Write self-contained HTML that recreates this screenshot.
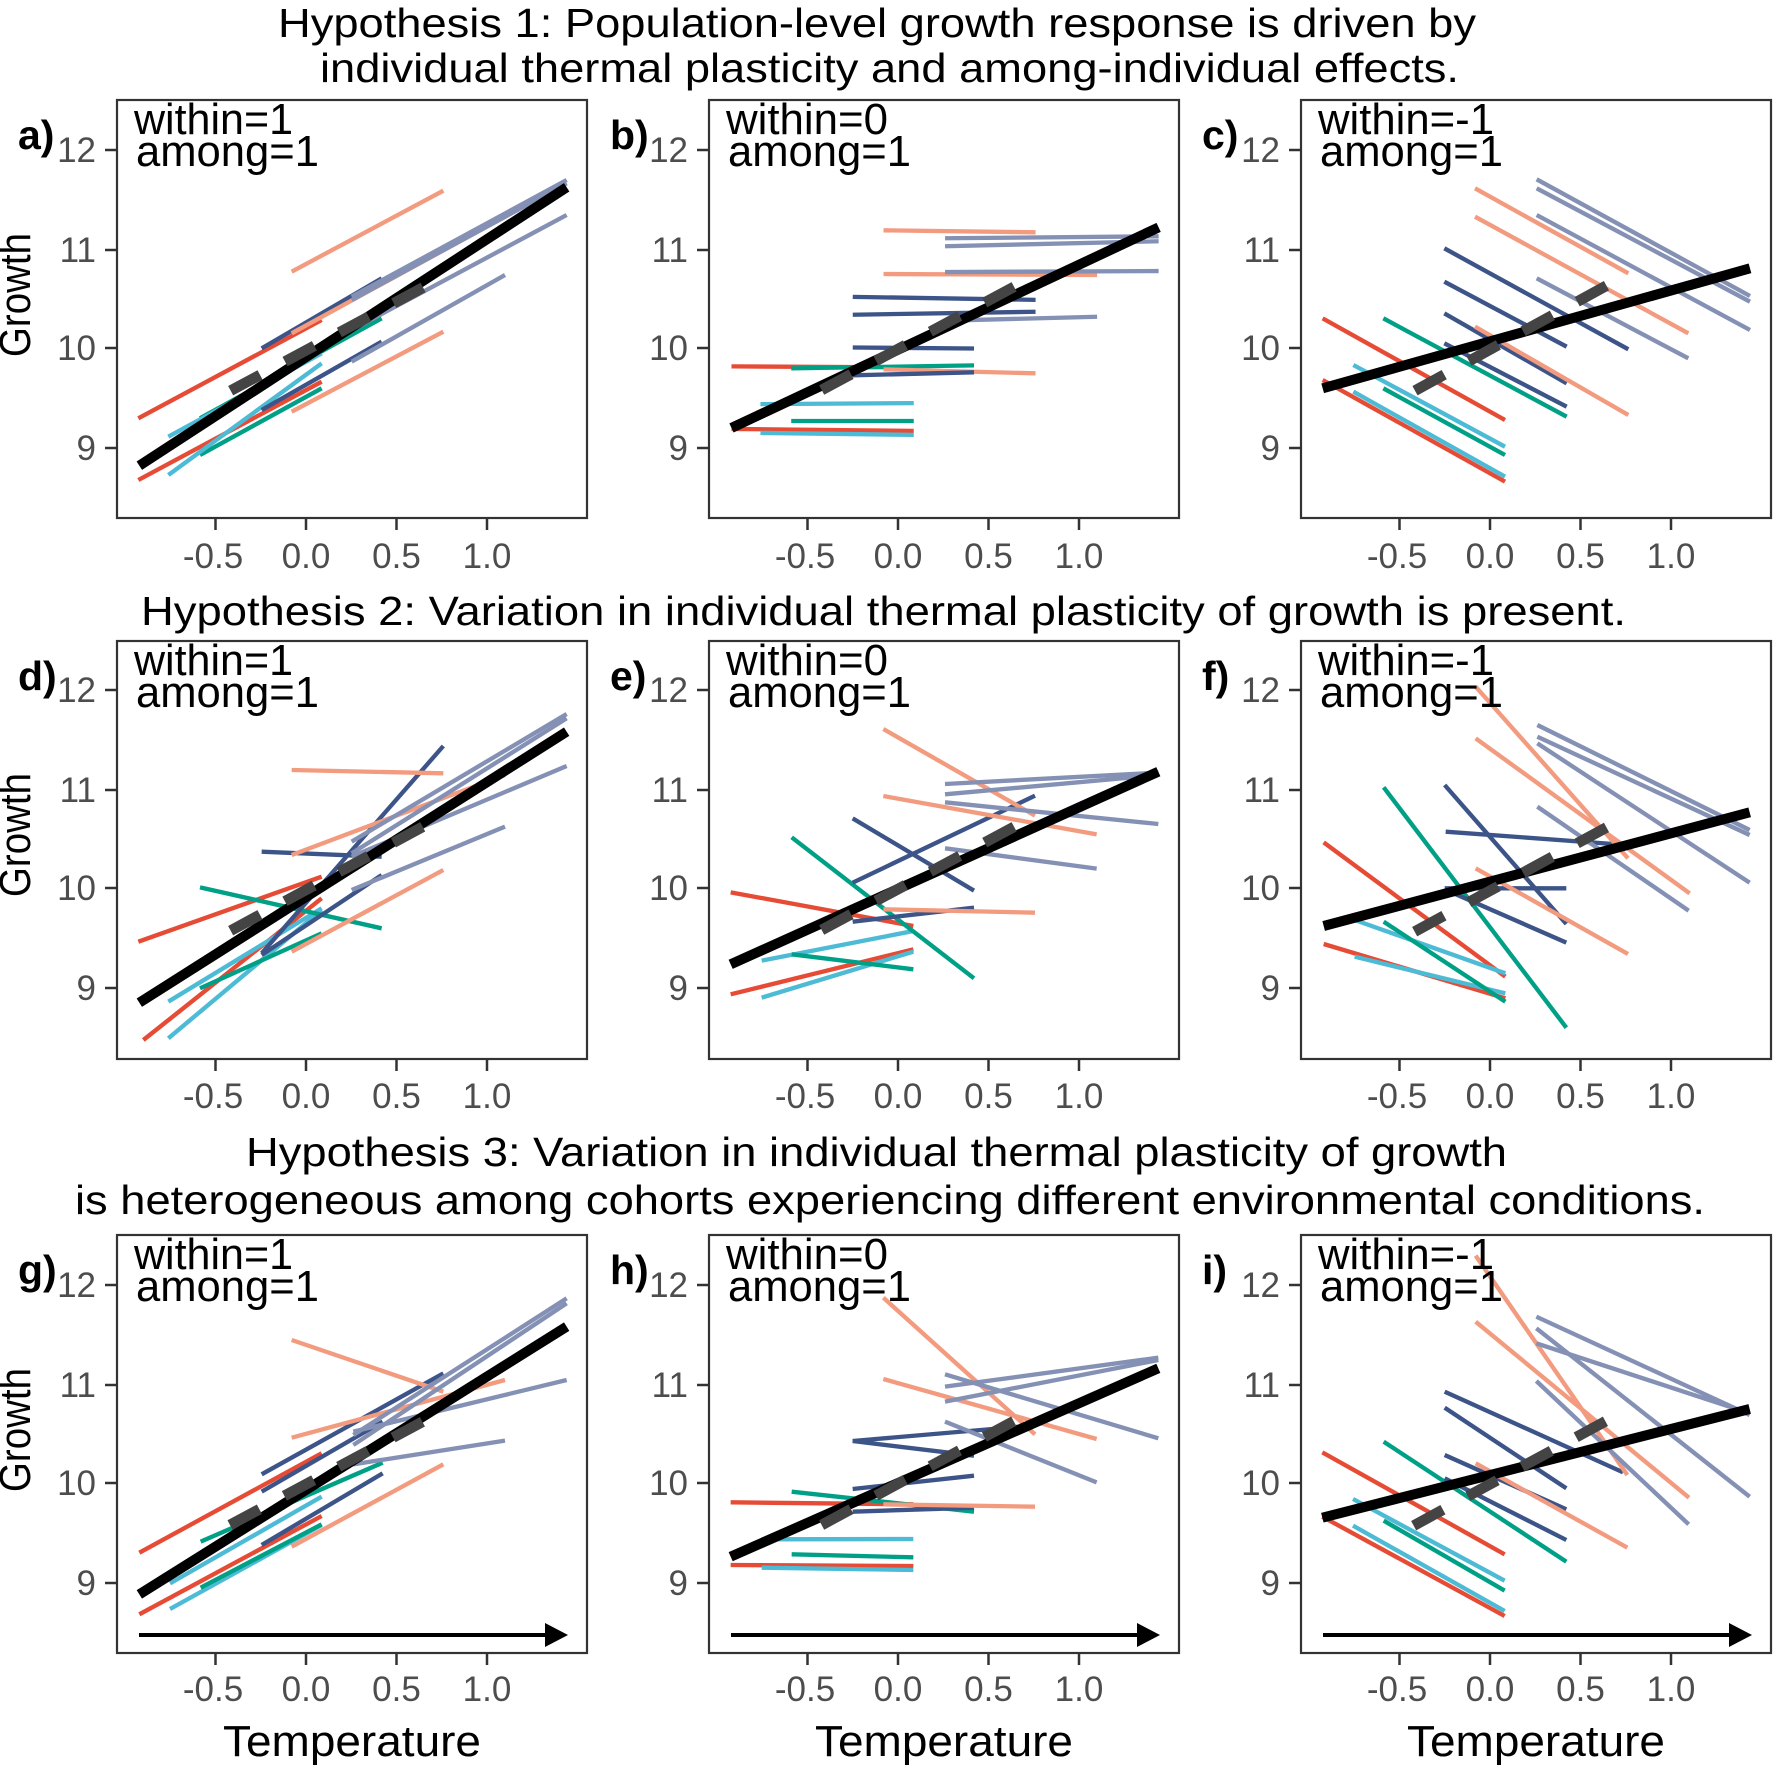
<!DOCTYPE html>
<html><head><meta charset="utf-8"><style>html,body{margin:0;padding:0;background:#fff}svg{display:block}</style></head>
<body>
<svg xmlns="http://www.w3.org/2000/svg" width="1773" height="1766" viewBox="0 0 1773 1766" font-family="Liberation Sans, Arial, sans-serif">
<defs>
<style>
.r{stroke:#E64B35}.s{stroke:#F39B7F}.t{stroke:#00A087}.l{stroke:#4DBBD5}.n{stroke:#3C5488}.g{stroke:#8491B4}
.z line{stroke-width:13;stroke-linecap:butt}
.z line.k{stroke:#000;stroke-width:30}
.z line.d{stroke:#444;stroke-width:32;stroke-dasharray:100 85}
.dd line{fill:none;stroke-width:4.3;vector-effect:non-scaling-stroke}
.dd line.k{stroke:#000;stroke-width:10}
.box{fill:none;stroke:#333;stroke-width:2.2}
.tk{stroke:#333;stroke-width:2.5}
.tl{fill:#4d4d4d;font-size:35px}
.ann{fill:#000;font-size:44px}
.pl{fill:#000;font-size:41px;font-weight:bold}
.ti{fill:#000;font-size:41px}
</style>
</defs>
<rect width="1773" height="1766" fill="#fff"/>

<text class="ti" x="278" y="37" textLength="1198" lengthAdjust="spacingAndGlyphs">Hypothesis 1: Population-level growth response is driven by</text>
<text class="ti" x="320" y="82" textLength="1139" lengthAdjust="spacingAndGlyphs">individual thermal plasticity and among-individual effects.</text>
<text class="ti" x="141" y="625" textLength="1485" lengthAdjust="spacingAndGlyphs">Hypothesis 2: Variation in individual thermal plasticity of growth is present.</text>
<text class="ti" x="246" y="1166" textLength="1261" lengthAdjust="spacingAndGlyphs">Hypothesis 3: Variation in individual thermal plasticity of growth</text>
<text class="ti" x="75" y="1214" textLength="1630" lengthAdjust="spacingAndGlyphs">is heterogeneous among cohorts experiencing different environmental conditions.</text>

<g class="z" transform="translate(110,100) scale(0.33333)">
<line class="r" x1="85" y1="955" x2="635" y2="660"/>
<line class="r" x1="85" y1="1140" x2="635" y2="845"/>
<line class="t" x1="270" y1="955" x2="815" y2="655"/>
<line class="t" x1="270" y1="1065" x2="635" y2="865"/>
<line class="l" x1="175" y1="1125" x2="635" y2="790"/>
<line class="l" x1="175" y1="1010" x2="635" y2="760"/>
<line class="n" x1="455" y1="745" x2="815" y2="535"/>
<line class="n" x1="455" y1="930" x2="815" y2="725"/>
<line class="s" x1="545" y1="515" x2="1000" y2="272"/>
<line class="s" x1="545" y1="935" x2="1000" y2="695"/>
<line class="s" x1="545" y1="700" x2="1185" y2="350"/>
<line class="g" x1="725" y1="590" x2="1370" y2="240"/>
<line class="g" x1="725" y1="600" x2="1370" y2="250"/>
<line class="g" x1="725" y1="690" x2="1370" y2="345"/>
<line class="g" x1="725" y1="785" x2="1185" y2="525"/>
<line class="k" x1="88" y1="1097" x2="1370" y2="262"/>
<line class="d" x1="362" y1="872" x2="985" y2="538"/>
</g>

<g class="dd" transform="translate(898,348.5) scale(181,-99.3)">
<line class="s" x1="-0.08" y1="1.19" x2="0.76" y2="1.17"/>
<line class="g" x1="0.26" y1="1.11" x2="1.44" y2="1.13"/>
<line class="g" x1="0.26" y1="1.03" x2="1.44" y2="1.08"/>
<line class="s" x1="-0.08" y1="0.75" x2="1.1" y2="0.74"/>
<line class="g" x1="0.26" y1="0.77" x2="1.44" y2="0.78"/>
<line class="n" x1="-0.25" y1="0.52" x2="0.76" y2="0.49"/>
<line class="n" x1="-0.25" y1="0.34" x2="0.76" y2="0.37"/>
<line class="g" x1="0.26" y1="0.28" x2="1.1" y2="0.32"/>
<line class="n" x1="-0.25" y1="0.01" x2="0.42" y2="0.0"/>
<line class="r" x1="-0.92" y1="-0.18" x2="0.087" y2="-0.19"/>
<line class="t" x1="-0.59" y1="-0.20" x2="0.42" y2="-0.17"/>
<line class="s" x1="-0.08" y1="-0.21" x2="0.76" y2="-0.25"/>
<line class="n" x1="-0.25" y1="-0.27" x2="0.42" y2="-0.24"/>
<line class="l" x1="-0.76" y1="-0.56" x2="0.087" y2="-0.55"/>
<line class="t" x1="-0.59" y1="-0.73" x2="0.087" y2="-0.73"/>
<line class="r" x1="-0.92" y1="-0.81" x2="0.087" y2="-0.83"/>
<line class="l" x1="-0.76" y1="-0.85" x2="0.087" y2="-0.87"/>
<line class="k" x1="-0.92" y1="-0.8" x2="1.44" y2="1.22"/>
</g>
<g class="z" transform="translate(700,100) scale(0.33333)">
<line class="d" x1="365" y1="870" x2="990" y2="535"/>
</g>

<g class="z" transform="translate(1300,80) scale(0.33333)">
<line class="r" x1="68" y1="715" x2="615" y2="1020"/>
<line class="r" x1="68" y1="900" x2="615" y2="1205"/>
<line class="l" x1="160" y1="855" x2="615" y2="1100"/>
<line class="l" x1="160" y1="935" x2="615" y2="1190"/>
<line class="t" x1="250" y1="715" x2="800" y2="1010"/>
<line class="t" x1="250" y1="925" x2="615" y2="1125"/>
<line class="n" x1="433" y1="505" x2="985" y2="808"/>
<line class="n" x1="433" y1="605" x2="800" y2="800"/>
<line class="n" x1="433" y1="700" x2="800" y2="910"/>
<line class="n" x1="433" y1="790" x2="800" y2="980"/>
<line class="s" x1="525" y1="325" x2="985" y2="580"/>
<line class="s" x1="525" y1="410" x2="1165" y2="760"/>
<line class="s" x1="525" y1="740" x2="985" y2="1005"/>
<line class="g" x1="710" y1="298" x2="1350" y2="648"/>
<line class="g" x1="710" y1="325" x2="1350" y2="665"/>
<line class="g" x1="710" y1="405" x2="1350" y2="750"/>
<line class="g" x1="710" y1="595" x2="1165" y2="835"/>
<line class="k" x1="68" y1="925" x2="1350" y2="565"/>
<line class="d" x1="345" y1="932" x2="965" y2="592"/>
</g>

<g class="z" transform="translate(110,640) scale(0.33333)">
<line class="r" x1="85" y1="905" x2="635" y2="710"/>
<line class="r" x1="100" y1="1200" x2="635" y2="775"/>
<line class="l" x1="175" y1="1085" x2="635" y2="805"/>
<line class="l" x1="175" y1="1195" x2="635" y2="810"/>
<line class="t" x1="270" y1="742" x2="815" y2="865"/>
<line class="t" x1="270" y1="1045" x2="635" y2="880"/>
<line class="n" x1="455" y1="940" x2="1000" y2="318"/>
<line class="n" x1="455" y1="635" x2="815" y2="650"/>
<line class="n" x1="455" y1="945" x2="815" y2="705"/>
<line class="s" x1="545" y1="390" x2="1000" y2="400"/>
<line class="s" x1="545" y1="645" x2="1185" y2="405"/>
<line class="s" x1="545" y1="935" x2="1000" y2="690"/>
<line class="g" x1="725" y1="605" x2="1370" y2="222"/>
<line class="g" x1="725" y1="640" x2="1370" y2="235"/>
<line class="g" x1="725" y1="650" x2="1370" y2="378"/>
<line class="g" x1="725" y1="750" x2="1185" y2="560"/>
<line class="k" x1="88" y1="1088" x2="1370" y2="275"/>
<line class="d" x1="362" y1="872" x2="985" y2="535"/>
</g>

<g class="z" transform="translate(700,640) scale(0.33333)">
<line class="r" x1="92" y1="757" x2="640" y2="858"/>
<line class="r" x1="92" y1="1063" x2="640" y2="928"/>
<line class="l" x1="185" y1="962" x2="640" y2="873"/>
<line class="l" x1="185" y1="1073" x2="640" y2="935"/>
<line class="t" x1="275" y1="592" x2="822" y2="1015"/>
<line class="t" x1="275" y1="943" x2="640" y2="988"/>
<line class="n" x1="458" y1="535" x2="822" y2="752"/>
<line class="n" x1="458" y1="728" x2="1005" y2="467"/>
<line class="n" x1="458" y1="845" x2="822" y2="803"/>
<line class="s" x1="550" y1="267" x2="1005" y2="527"/>
<line class="s" x1="550" y1="468" x2="1190" y2="583"/>
<line class="s" x1="550" y1="808" x2="1005" y2="818"/>
<line class="g" x1="735" y1="432" x2="1375" y2="398"/>
<line class="g" x1="735" y1="463" x2="1375" y2="405"/>
<line class="g" x1="735" y1="487" x2="1375" y2="552"/>
<line class="g" x1="735" y1="625" x2="1190" y2="686"/>
<line class="k" x1="92" y1="973" x2="1375" y2="395"/>
<line class="d" x1="365" y1="870" x2="990" y2="535"/>
</g>

<g class="z" transform="translate(1293,640) scale(0.33333)">
<line class="r" x1="92" y1="607" x2="637" y2="1010"/>
<line class="r" x1="92" y1="912" x2="637" y2="1075"/>
<line class="l" x1="185" y1="840" x2="637" y2="1000"/>
<line class="l" x1="185" y1="950" x2="637" y2="1060"/>
<line class="t" x1="272" y1="442" x2="820" y2="1163"/>
<line class="t" x1="272" y1="845" x2="637" y2="1085"/>
<line class="n" x1="455" y1="435" x2="820" y2="852"/>
<line class="n" x1="458" y1="575" x2="960" y2="612"/>
<line class="n" x1="455" y1="745" x2="820" y2="745"/>
<line class="n" x1="455" y1="748" x2="820" y2="908"/>
<line class="s" x1="548" y1="140" x2="1005" y2="655"/>
<line class="s" x1="548" y1="295" x2="1190" y2="760"/>
<line class="s" x1="548" y1="685" x2="1005" y2="942"/>
<line class="g" x1="733" y1="255" x2="1370" y2="570"/>
<line class="g" x1="733" y1="290" x2="1370" y2="585"/>
<line class="g" x1="733" y1="310" x2="1370" y2="728"/>
<line class="g" x1="733" y1="500" x2="1187" y2="812"/>
<line class="k" x1="92" y1="858" x2="1370" y2="517"/>
<line class="d" x1="365" y1="875" x2="985" y2="538"/>
</g>

<g class="z" transform="translate(110,1235) scale(0.33333)">
<line class="r" x1="88" y1="953" x2="635" y2="655"/>
<line class="r" x1="88" y1="1138" x2="635" y2="843"/>
<line class="l" x1="180" y1="1045" x2="635" y2="785"/>
<line class="l" x1="180" y1="1122" x2="635" y2="870"/>
<line class="t" x1="272" y1="920" x2="818" y2="683"/>
<line class="t" x1="272" y1="1058" x2="635" y2="868"/>
<line class="n" x1="455" y1="718" x2="1000" y2="415"/>
<line class="n" x1="455" y1="770" x2="818" y2="560"/>
<line class="n" x1="455" y1="930" x2="818" y2="715"/>
<line class="s" x1="545" y1="315" x2="1000" y2="470"/>
<line class="s" x1="545" y1="608" x2="1185" y2="435"/>
<line class="s" x1="545" y1="935" x2="1000" y2="688"/>
<line class="g" x1="730" y1="600" x2="1370" y2="190"/>
<line class="g" x1="730" y1="630" x2="1370" y2="205"/>
<line class="g" x1="730" y1="590" x2="1370" y2="435"/>
<line class="g" x1="730" y1="688" x2="1185" y2="617"/>
<line class="k" x1="88" y1="1078" x2="1370" y2="275"/>
<line class="d" x1="360" y1="870" x2="985" y2="535"/>
</g>

<g class="z" transform="translate(700,1235) scale(0.33333)">
<line class="r" x1="92" y1="802" x2="640" y2="808"/>
<line class="t" x1="275" y1="770" x2="822" y2="830"/>
<line class="r" x1="92" y1="990" x2="640" y2="993"/>
<line class="l" x1="185" y1="998" x2="640" y2="1005"/>
<line class="l" x1="185" y1="913" x2="640" y2="912"/>
<line class="t" x1="275" y1="958" x2="640" y2="967"/>
<line class="n" x1="458" y1="618" x2="958" y2="575"/>
<line class="n" x1="458" y1="618" x2="822" y2="662"/>
<line class="n" x1="458" y1="762" x2="822" y2="722"/>
<line class="n" x1="458" y1="830" x2="822" y2="818"/>
<line class="s" x1="550" y1="188" x2="1005" y2="598"/>
<line class="s" x1="550" y1="432" x2="1190" y2="612"/>
<line class="s" x1="550" y1="808" x2="1005" y2="815"/>
<line class="g" x1="735" y1="418" x2="1375" y2="610"/>
<line class="g" x1="735" y1="455" x2="1375" y2="368"/>
<line class="g" x1="735" y1="500" x2="1375" y2="375"/>
<line class="g" x1="735" y1="560" x2="1190" y2="742"/>
<line class="k" x1="92" y1="965" x2="1375" y2="400"/>
<line class="d" x1="365" y1="870" x2="990" y2="532"/>
</g>

<g class="z" transform="translate(1293,1235) scale(0.33333)">
<line class="r" x1="88" y1="652" x2="635" y2="958"/>
<line class="r" x1="88" y1="845" x2="635" y2="1143"/>
<line class="l" x1="180" y1="792" x2="635" y2="1037"/>
<line class="l" x1="180" y1="872" x2="635" y2="1128"/>
<line class="t" x1="272" y1="620" x2="820" y2="980"/>
<line class="t" x1="272" y1="857" x2="635" y2="1067"/>
<line class="n" x1="455" y1="470" x2="990" y2="712"/>
<line class="n" x1="455" y1="518" x2="820" y2="760"/>
<line class="n" x1="455" y1="660" x2="820" y2="823"/>
<line class="n" x1="455" y1="730" x2="820" y2="915"/>
<line class="s" x1="548" y1="62" x2="1003" y2="720"/>
<line class="s" x1="548" y1="260" x2="1188" y2="788"/>
<line class="s" x1="548" y1="685" x2="1003" y2="938"/>
<line class="g" x1="730" y1="245" x2="1370" y2="540"/>
<line class="g" x1="730" y1="325" x2="1370" y2="535"/>
<line class="g" x1="730" y1="280" x2="1370" y2="785"/>
<line class="g" x1="730" y1="438" x2="1187" y2="868"/>
<line class="k" x1="88" y1="848" x2="1370" y2="522"/>
<line class="d" x1="362" y1="872" x2="985" y2="533"/>
</g>

<g fill="#000" stroke="#000">
<line x1="139" y1="1635" x2="546" y2="1635" stroke-width="4"/>
<polygon points="545,1623 568,1635 545,1647" stroke="none"/>
<line x1="731" y1="1635" x2="1138" y2="1635" stroke-width="4"/>
<polygon points="1137,1623 1160,1635 1137,1647" stroke="none"/>
<line x1="1323" y1="1635" x2="1730" y2="1635" stroke-width="4"/>
<polygon points="1729,1623 1752,1635 1729,1647" stroke="none"/>
</g>

<g>
<rect class="box" x="117" y="100" width="470" height="418"/>
<rect class="box" x="709" y="100" width="470" height="418"/>
<rect class="box" x="1301" y="100" width="470" height="418"/>
<rect class="box" x="117" y="641" width="470" height="418"/>
<rect class="box" x="709" y="641" width="470" height="418"/>
<rect class="box" x="1301" y="641" width="470" height="418"/>
<rect class="box" x="117" y="1235" width="470" height="418"/>
<rect class="box" x="709" y="1235" width="470" height="418"/>
<rect class="box" x="1301" y="1235" width="470" height="418"/>
</g>

<g class="tk">
<path d="M105 150H117M105 250H117M105 348H117M105 448H117 M697 150H709M697 250H709M697 348H709M697 448H709 M1289 150H1301M1289 250H1301M1289 348H1301M1289 448H1301"/>
<path d="M105 690H117M105 790H117M105 888H117M105 988H117 M697 690H709M697 790H709M697 888H709M697 988H709 M1289 690H1301M1289 790H1301M1289 888H1301M1289 988H1301"/>
<path d="M105 1285H117M105 1385H117M105 1483H117M105 1583H117 M697 1285H709M697 1385H709M697 1483H709M697 1583H709 M1289 1285H1301M1289 1385H1301M1289 1483H1301M1289 1583H1301"/>
<path d="M215.5 518V530M306 518V530M396.5 518V530M487 518V530 M807.5 518V530M898 518V530M988.5 518V530M1079 518V530 M1399.5 518V530M1490 518V530M1580.5 518V530M1671 518V530"/>
<path d="M215.5 1059V1071M306 1059V1071M396.5 1059V1071M487 1059V1071 M807.5 1059V1071M898 1059V1071M988.5 1059V1071M1079 1059V1071 M1399.5 1059V1071M1490 1059V1071M1580.5 1059V1071M1671 1059V1071"/>
<path d="M215.5 1653V1665M306 1653V1665M396.5 1653V1665M487 1653V1665 M807.5 1653V1665M898 1653V1665M988.5 1653V1665M1079 1653V1665 M1399.5 1653V1665M1490 1653V1665M1580.5 1653V1665M1671 1653V1665"/>
</g>

<g class="tl" text-anchor="end">
<text x="96" y="162">12</text><text x="96" y="262">11</text><text x="96" y="360">10</text><text x="96" y="460">9</text>
<text x="688" y="162">12</text><text x="688" y="262">11</text><text x="688" y="360">10</text><text x="688" y="460">9</text>
<text x="1280" y="162">12</text><text x="1280" y="262">11</text><text x="1280" y="360">10</text><text x="1280" y="460">9</text>
<text x="96" y="702">12</text><text x="96" y="802">11</text><text x="96" y="900">10</text><text x="96" y="1000">9</text>
<text x="688" y="702">12</text><text x="688" y="802">11</text><text x="688" y="900">10</text><text x="688" y="1000">9</text>
<text x="1280" y="702">12</text><text x="1280" y="802">11</text><text x="1280" y="900">10</text><text x="1280" y="1000">9</text>
<text x="96" y="1297">12</text><text x="96" y="1397">11</text><text x="96" y="1495">10</text><text x="96" y="1595">9</text>
<text x="688" y="1297">12</text><text x="688" y="1397">11</text><text x="688" y="1495">10</text><text x="688" y="1595">9</text>
<text x="1280" y="1297">12</text><text x="1280" y="1397">11</text><text x="1280" y="1495">10</text><text x="1280" y="1595">9</text>
</g>

<g class="tl" text-anchor="middle">
<text x="213" y="568">-0.5</text><text x="306" y="568">0.0</text><text x="396.5" y="568">0.5</text><text x="487" y="568">1.0</text>
<text x="805" y="568">-0.5</text><text x="898" y="568">0.0</text><text x="988.5" y="568">0.5</text><text x="1079" y="568">1.0</text>
<text x="1397" y="568">-0.5</text><text x="1490" y="568">0.0</text><text x="1580.5" y="568">0.5</text><text x="1671" y="568">1.0</text>
<text x="213" y="1108">-0.5</text><text x="306" y="1108">0.0</text><text x="396.5" y="1108">0.5</text><text x="487" y="1108">1.0</text>
<text x="805" y="1108">-0.5</text><text x="898" y="1108">0.0</text><text x="988.5" y="1108">0.5</text><text x="1079" y="1108">1.0</text>
<text x="1397" y="1108">-0.5</text><text x="1490" y="1108">0.0</text><text x="1580.5" y="1108">0.5</text><text x="1671" y="1108">1.0</text>
<text x="213" y="1701">-0.5</text><text x="306" y="1701">0.0</text><text x="396.5" y="1701">0.5</text><text x="487" y="1701">1.0</text>
<text x="805" y="1701">-0.5</text><text x="898" y="1701">0.0</text><text x="988.5" y="1701">0.5</text><text x="1079" y="1701">1.0</text>
<text x="1397" y="1701">-0.5</text><text x="1490" y="1701">0.0</text><text x="1580.5" y="1701">0.5</text><text x="1671" y="1701">1.0</text>
</g>

<g fill="#000" font-size="44">
<text transform="translate(30,295) rotate(-90)" text-anchor="middle" textLength="124" lengthAdjust="spacingAndGlyphs">Growth</text>
<text transform="translate(30,835) rotate(-90)" text-anchor="middle" textLength="124" lengthAdjust="spacingAndGlyphs">Growth</text>
<text transform="translate(30,1430) rotate(-90)" text-anchor="middle" textLength="124" lengthAdjust="spacingAndGlyphs">Growth</text>
<text x="223" y="1756" textLength="258" lengthAdjust="spacingAndGlyphs">Temperature</text>
<text x="815" y="1756" textLength="258" lengthAdjust="spacingAndGlyphs">Temperature</text>
<text x="1407" y="1756" textLength="258" lengthAdjust="spacingAndGlyphs">Temperature</text>
</g>

<g class="ann">
<text x="134" y="134" textLength="159" lengthAdjust="spacingAndGlyphs">within=1</text>
<text x="136" y="166" textLength="183" lengthAdjust="spacingAndGlyphs">among=1</text>
<text x="726" y="134" textLength="162" lengthAdjust="spacingAndGlyphs">within=0</text>
<text x="728" y="166" textLength="183" lengthAdjust="spacingAndGlyphs">among=1</text>
<text x="1318" y="134" textLength="176" lengthAdjust="spacingAndGlyphs">within=-1</text>
<text x="1320" y="166" textLength="183" lengthAdjust="spacingAndGlyphs">among=1</text>

<text x="134" y="675" textLength="159" lengthAdjust="spacingAndGlyphs">within=1</text>
<text x="136" y="707" textLength="183" lengthAdjust="spacingAndGlyphs">among=1</text>
<text x="726" y="675" textLength="162" lengthAdjust="spacingAndGlyphs">within=0</text>
<text x="728" y="707" textLength="183" lengthAdjust="spacingAndGlyphs">among=1</text>
<text x="1318" y="675" textLength="176" lengthAdjust="spacingAndGlyphs">within=-1</text>
<text x="1320" y="707" textLength="183" lengthAdjust="spacingAndGlyphs">among=1</text>

<text x="134" y="1269" textLength="159" lengthAdjust="spacingAndGlyphs">within=1</text>
<text x="136" y="1301" textLength="183" lengthAdjust="spacingAndGlyphs">among=1</text>
<text x="726" y="1269" textLength="162" lengthAdjust="spacingAndGlyphs">within=0</text>
<text x="728" y="1301" textLength="183" lengthAdjust="spacingAndGlyphs">among=1</text>
<text x="1318" y="1269" textLength="176" lengthAdjust="spacingAndGlyphs">within=-1</text>
<text x="1320" y="1301" textLength="183" lengthAdjust="spacingAndGlyphs">among=1</text>
</g>

<g class="pl">
<text x="18" y="149">a)</text><text x="610" y="149">b)</text><text x="1202" y="149">c)</text>
<text x="18" y="690">d)</text><text x="610" y="690">e)</text><text x="1202" y="690">f)</text>
<text x="18" y="1284">g)</text><text x="610" y="1284">h)</text><text x="1202" y="1284">i)</text>
</g>
</svg>
</body></html>
